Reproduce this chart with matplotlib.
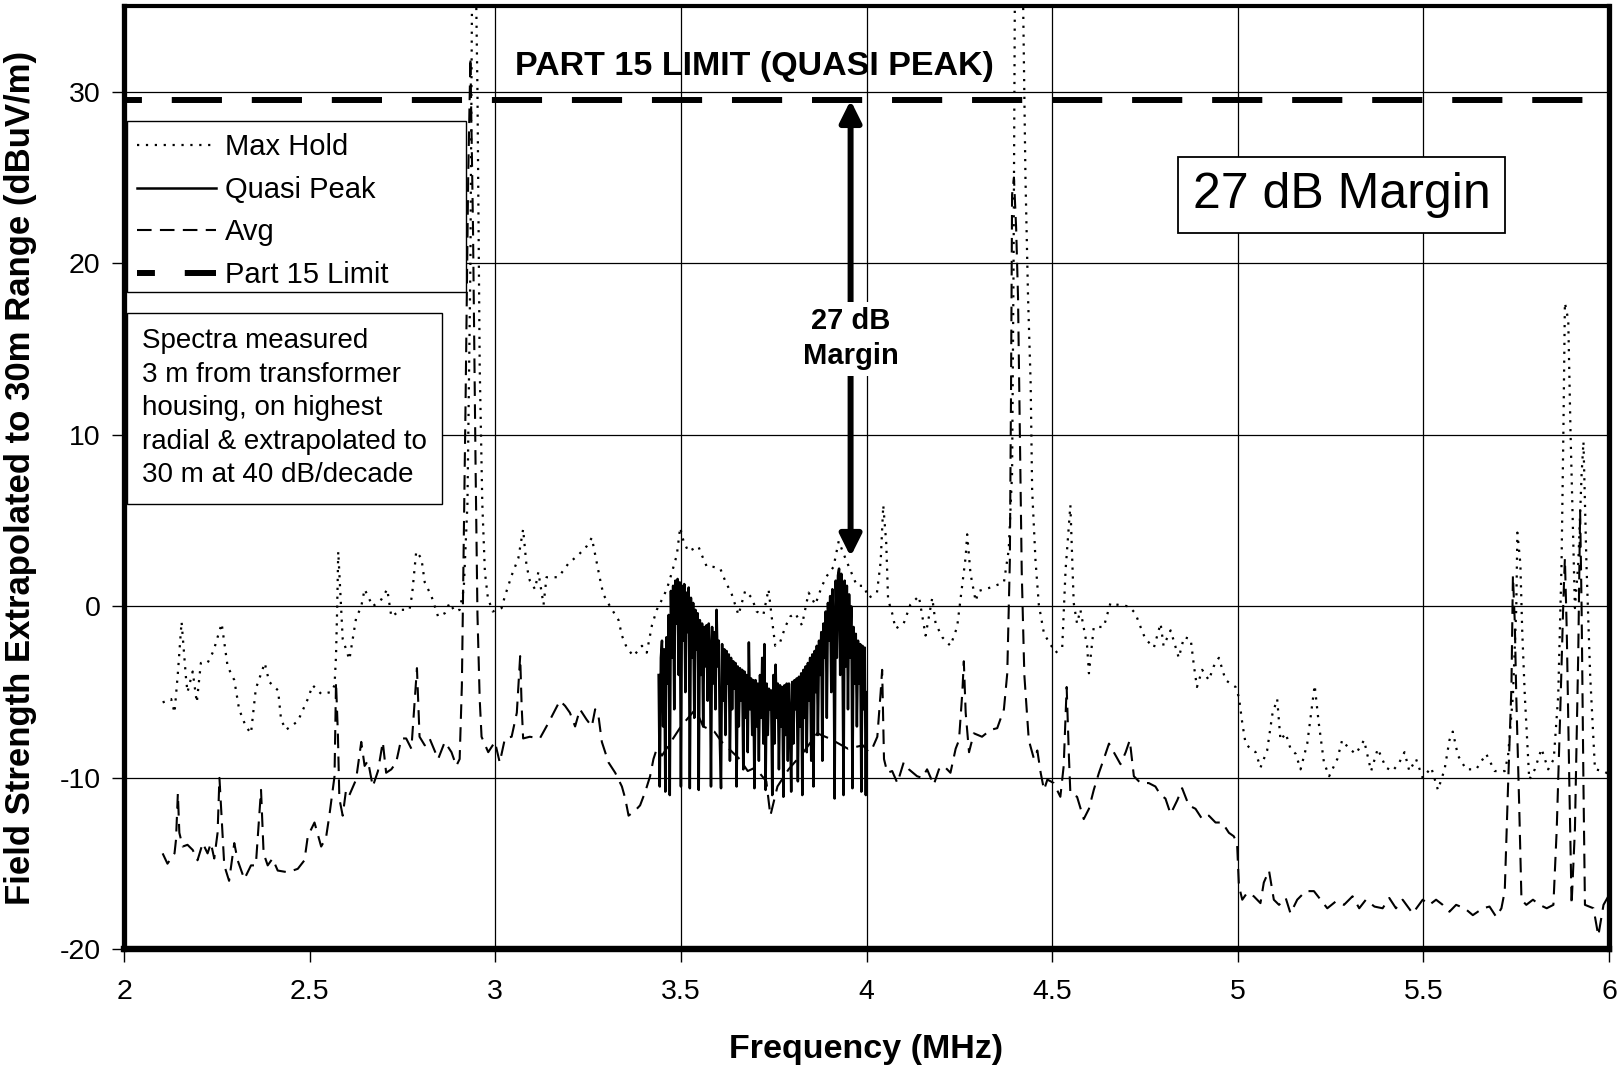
import numpy as np
import matplotlib.pyplot as plt
from matplotlib.patches import Rectangle

plt.rcParams['font.family'] = ['Liberation Sans', 'DejaVu Sans']

# Max Hold (dotted)
mh_f = [2.104, 2.127, 2.136, 2.145, 2.155, 2.167, 2.171, 2.185, 2.196, 2.207, 2.225, 2.241, 2.263, 2.279,
        2.297, 2.310, 2.328, 2.342, 2.355, 2.379, 2.391, 2.415, 2.423, 2.436, 2.468, 2.495, 2.508, 2.531,
        2.558, 2.567, 2.571, 2.574, 2.577, 2.585, 2.589, 2.607, 2.616, 2.625, 2.639, 2.648, 2.670, 2.693,
        2.709, 2.720, 2.747, 2.769, 2.776, 2.787, 2.801, 2.810, 2.828, 2.846, 2.864, 2.877, 2.891, 2.904,
        2.915, 2.925, 2.933, 2.938, 2.945, 2.952, 2.958, 2.965, 2.972, 2.980, 2.993, 3.017, 3.026, 3.044,
        3.062, 3.075, 3.084, 3.093, 3.107, 3.116, 3.130, 3.138, 3.170, 3.197, 3.224, 3.246, 3.260, 3.273,
        3.282, 3.291, 3.309, 3.332, 3.341, 3.354, 3.372, 3.395, 3.408, 3.422, 3.435, 3.449, 3.462, 3.476,
        3.489, 3.498, 3.507, 3.520, 3.547, 3.556, 3.570, 3.588, 3.606, 3.619, 3.637, 3.655, 3.673, 3.691,
        3.704, 3.722, 3.736, 3.745, 3.754, 3.767, 3.781, 3.794, 3.808, 3.826, 3.844, 3.862, 3.880, 3.894,
        3.911, 3.925, 3.943, 3.974, 3.992, 4.006, 4.028, 4.038, 4.045, 4.053, 4.058, 4.069, 4.078, 4.100,
        4.118, 4.141, 4.159, 4.177, 4.186, 4.204, 4.226, 4.244, 4.253, 4.267, 4.271, 4.280, 4.294, 4.302,
        4.334, 4.370, 4.383, 4.392, 4.396, 4.400, 4.410, 4.420, 4.428, 4.435, 4.442, 4.446, 4.455, 4.464,
        4.478, 4.495, 4.509, 4.527, 4.536, 4.549, 4.558, 4.567, 4.576, 4.594, 4.599, 4.612, 4.639, 4.657,
        4.675, 4.706, 4.724, 4.738, 4.751, 4.774, 4.792, 4.800, 4.819, 4.841, 4.855, 4.873, 4.882, 4.890,
        4.904, 4.922, 4.935, 4.949, 4.967, 4.994, 5.003, 5.012, 5.021, 5.034, 5.048, 5.061, 5.079, 5.093,
        5.106, 5.115, 5.129, 5.142, 5.156, 5.169, 5.187, 5.207, 5.218, 5.232, 5.246, 5.268, 5.281, 5.300,
        5.318, 5.340, 5.359, 5.377, 5.399, 5.417, 5.435, 5.449, 5.462, 5.480, 5.498, 5.521, 5.539, 5.557,
        5.570, 5.579, 5.593, 5.615, 5.642, 5.669, 5.692, 5.719, 5.728, 5.741, 5.750, 5.753, 5.761, 5.766,
        5.773, 5.785, 5.800, 5.818, 5.836, 5.851, 5.863, 5.872, 5.877, 5.881, 5.890, 5.896, 5.902, 5.908,
        5.917, 5.926, 5.931, 5.939, 5.949, 5.962, 5.985, 6.000]
mh_v = [-5.6, -5.4, -6.2, -3.9, -0.9, -4.2, -5.0, -3.8, -5.6, -3.3, -3.3, -2.6, -1.0, -3.5,
        -4.3, -6.0, -7.0, -7.4, -4.8, -3.3, -4.4, -4.9, -6.6, -7.2, -6.7, -5.4, -4.6, -5.1,
        -5.0, -4.6, -2.9, -0.2, 3.2, -0.2, -1.9, -3.1, -1.9, -0.7, 0.0, 1.0, 0.0, 0.4,
        1.0, -0.6, -0.2, -0.2, 0.7, 3.2, 2.8, 1.4, 0.6, -0.6, -0.4, 0.2, -0.3, -0.2,
        1.0, 6.0, 20.0, 38.0, 41.0, 30.0, 14.0, 6.0, 2.0, 0.5, -0.3, -0.1, 0.6, 1.8,
        2.8, 4.5, 2.4, 1.5, 1.0, 2.0, 0.1, 1.7, 1.7, 2.5, 3.0, 3.5, 4.0, 2.6,
        1.6, 0.7, 0.0, -0.8, -1.7, -2.4, -2.9, -2.3, -2.7, -1.1, -0.2, 0.4, 1.0, 2.0,
        3.0, 4.6, 3.8, 3.2, 3.5, 3.0, 2.3, 2.3, 2.2, 1.5, 0.7, -0.5, 0.9, 0.5,
        -0.3, -0.5, 1.0, -0.7, -2.3, -2.1, -1.2, -0.6, -0.4, -1.1, 0.8, 0.1, 1.2, 1.8,
        2.3, 3.8, 2.8, 1.2, 1.2, 0.5, 0.8, 2.6, 5.9, 3.7, 0.4, -0.4, -1.3, -1.0,
        0.1, 0.6, -1.7, 0.5, -1.0, -1.8, -2.3, -1.2, 0.4, 2.9, 4.2, 1.9, 0.3, 0.9,
        1.1, 1.4, 3.3, 7.8, 20.0, 38.0, 41.0, 38.0, 25.0, 18.0, 13.0, 6.8, 2.7, 0.1,
        -1.6, -2.2, -2.7, -2.4, 2.1, 5.9, 0.2, -1.0, -0.2, -2.3, -3.9, -1.2, -1.2, 0.2,
        0.1, 0.0, -0.4, -1.2, -1.9, -2.4, -1.0, -2.3, -1.4, -3.0, -1.8, -1.9, -3.5, -4.7,
        -3.7, -4.3, -3.5, -3.0, -4.3, -4.7, -5.3, -6.8, -8.0, -8.3, -8.5, -9.4, -8.4, -6.3,
        -5.4, -7.8, -7.4, -8.3, -8.6, -9.5, -8.0, -4.6, -6.8, -9.1, -9.9, -8.9, -7.8, -8.3,
        -8.6, -7.8, -9.6, -8.3, -9.4, -9.6, -9.1, -8.5, -9.6, -8.9, -10.0, -9.4, -10.7, -9.5,
        -7.8, -7.3, -8.7, -9.5, -9.5, -8.6, -9.6, -9.6, -8.7, -5.2, -0.1, 4.3, 2.5, -1.4,
        -5.2, -10.1, -9.5, -8.3, -9.5, -8.9, -5.2, 2.5, 10.3, 17.7, 16.7, 10.3, 5.1, -0.1,
        2.5, 7.7, 9.6, 2.5, -4.0, -9.5, -9.6, -9.8]

# Quasi Peak (solid)
qp_f = [3.440, 3.443, 3.446, 3.449, 3.452, 3.455, 3.458, 3.461, 3.464, 3.467, 3.470, 3.473, 3.476, 3.479,
        3.482, 3.485, 3.488, 3.491, 3.494, 3.497, 3.500, 3.503, 3.506, 3.509, 3.512, 3.515, 3.518, 3.521,
        3.524, 3.527, 3.530, 3.533, 3.536, 3.539, 3.542, 3.545, 3.548, 3.551, 3.554, 3.557, 3.560, 3.563,
        3.566, 3.569, 3.572, 3.575, 3.578, 3.581, 3.584, 3.587, 3.590, 3.593, 3.596, 3.599, 3.602, 3.605,
        3.608, 3.611, 3.614, 3.617, 3.620, 3.623, 3.626, 3.629, 3.632, 3.635, 3.638, 3.641, 3.644, 3.647,
        3.650, 3.653, 3.656, 3.659, 3.662, 3.665, 3.668, 3.671, 3.674, 3.677, 3.680, 3.683, 3.686, 3.689,
        3.692, 3.695, 3.698, 3.701, 3.704, 3.707, 3.710, 3.713, 3.716, 3.719, 3.722, 3.725, 3.728, 3.731,
        3.734, 3.737, 3.740, 3.743, 3.746, 3.749, 3.752, 3.755, 3.758, 3.761, 3.764, 3.767, 3.770, 3.773,
        3.776, 3.779, 3.782, 3.785, 3.788, 3.791, 3.794, 3.797, 3.800, 3.803, 3.806, 3.809, 3.812, 3.815,
        3.818, 3.821, 3.824, 3.827, 3.830, 3.833, 3.836, 3.839, 3.842, 3.845, 3.848, 3.851, 3.854, 3.857,
        3.860, 3.863, 3.866, 3.869, 3.872, 3.875, 3.878, 3.881, 3.884, 3.887, 3.890, 3.893, 3.896, 3.899,
        3.902, 3.905, 3.908, 3.911, 3.914, 3.917, 3.920, 3.923, 3.926, 3.929, 3.932, 3.935, 3.938, 3.941,
        3.944, 3.947, 3.950, 3.953, 3.956, 3.959, 3.962, 3.965, 3.968, 3.971, 3.974, 3.977, 3.980, 3.983,
        3.986, 3.989, 3.992, 3.995, 3.998, 4.000]
qp_v = [-4.0, -10.5, -3.0, -2.0, -7.0, -2.5, -10.8, -1.8, -4.5, -0.5, -11.0, 0.9, -3.0, 1.2,
        -6.0, 1.5, -1.0, 1.6, -4.0, 1.4, -10.5, 1.2, -2.0, 1.3, -5.0, 0.8, -1.5, 1.1,
        -10.6, 0.5, -3.0, 0.2, -6.5, -0.2, -2.5, -0.4, -10.7, -0.8, -4.0, -1.0, -7.0, -1.2,
        -3.5, -1.1, -5.5, -1.0, -2.5, -10.5, -1.2, -4.5, -1.5, -6.0, -0.2, -3.5, -2.0, -8.0,
        -10.6, -2.2, -5.5, -2.5, -7.5, -2.6, -4.5, -2.8, -9.0, -3.0, -6.0, -3.2, -4.8, -3.3,
        -10.5, -3.5, -7.0, -3.6, -5.5, -3.7, -9.5, -3.8, -6.5, -4.0, -8.5, -2.1, -6.0, -4.2,
        -7.5, -4.3, -10.6, -4.3, -7.0, -4.5, -9.0, -4.0, -6.5, -3.0, -8.0, -2.2, -10.7, -4.5,
        -7.5, -4.8, -6.0, -4.9, -11.0, -4.0, -8.0, -3.4, -6.5, -4.5, -9.5, -4.6, -7.0, -4.7,
        -11.1, -4.6, -7.5, -4.5, -9.0, -4.5, -6.5, -10.8, -4.4, -8.0, -4.3, -6.0, -4.2, -10.2,
        -4.1, -7.0, -3.9, -11.0, -3.7, -6.5, -3.5, -8.5, -3.3, -5.5, -3.0, -9.0, -2.8, -10.5,
        -2.6, -5.0, -2.3, -7.5, -2.0, -4.0, -1.5, -9.0, -1.0, -3.0, -0.3, -6.5, 0.2, -2.0,
        0.6, -5.0, 1.0, -1.0, -11.2, 1.5, -3.0, 1.8, 2.2, -4.0, 1.9, -2.0, -11.0, 1.5,
        -3.5, 1.2, -6.0, 0.7, -3.0, 0.0, -10.6, -1.2, -4.5, -1.6, -7.0, -2.0, -4.5, -2.2,
        -10.8, -2.3, -6.0, -2.4, -11.0, -5.0]

# Avg (dashed)
av_f = [2.104, 2.117, 2.136, 2.140, 2.145, 2.149, 2.158, 2.171, 2.185, 2.198, 2.212, 2.225, 2.234, 2.243,
        2.252, 2.257, 2.265, 2.270, 2.283, 2.297, 2.306, 2.324, 2.342, 2.355, 2.369, 2.376, 2.387, 2.400,
        2.414, 2.441, 2.468, 2.486, 2.495, 2.513, 2.531, 2.544, 2.553, 2.567, 2.569, 2.571, 2.576, 2.580,
        2.589, 2.598, 2.607, 2.625, 2.639, 2.648, 2.657, 2.670, 2.684, 2.697, 2.706, 2.720, 2.733, 2.747,
        2.760, 2.774, 2.789, 2.796, 2.810, 2.823, 2.846, 2.864, 2.882, 2.895, 2.904, 2.910, 2.914, 2.920,
        2.927, 2.933, 2.940, 2.947, 2.952, 2.958, 2.963, 2.981, 2.999, 3.012, 3.026, 3.044, 3.058, 3.067,
        3.071, 3.075, 3.093, 3.120, 3.143, 3.174, 3.188, 3.201, 3.215, 3.228, 3.246, 3.260, 3.269, 3.278,
        3.287, 3.305, 3.323, 3.341, 3.350, 3.359, 3.377, 3.390, 3.404, 3.417, 3.426, 3.435, 3.449, 3.470,
        3.500, 3.539, 3.560, 3.590, 3.610, 3.658, 3.680, 3.700, 3.730, 3.741, 3.760, 3.790, 3.830, 3.867,
        3.900, 3.950, 3.990, 4.006, 4.015, 4.029, 4.038, 4.042, 4.047, 4.056, 4.069, 4.083, 4.100, 4.114,
        4.136, 4.150, 4.163, 4.181, 4.195, 4.208, 4.226, 4.240, 4.249, 4.258, 4.262, 4.267, 4.276, 4.289,
        4.311, 4.334, 4.352, 4.370, 4.379, 4.386, 4.389, 4.392, 4.397, 4.403, 4.408, 4.413, 4.418, 4.425,
        4.437, 4.451, 4.460, 4.469, 4.478, 4.487, 4.496, 4.504, 4.522, 4.531, 4.539, 4.545, 4.549, 4.567,
        4.585, 4.599, 4.612, 4.626, 4.639, 4.653, 4.666, 4.684, 4.698, 4.709, 4.720, 4.738, 4.760, 4.778,
        4.792, 4.805, 4.819, 4.837, 4.850, 4.868, 4.886, 4.904, 4.922, 4.940, 4.958, 4.976, 4.989, 4.998,
        5.003, 5.012, 5.025, 5.043, 5.061, 5.070, 5.084, 5.097, 5.111, 5.129, 5.142, 5.160, 5.183, 5.205,
        5.223, 5.241, 5.264, 5.286, 5.309, 5.327, 5.345, 5.368, 5.390, 5.408, 5.426, 5.444, 5.471, 5.498,
        5.516, 5.534, 5.552, 5.570, 5.588, 5.611, 5.633, 5.660, 5.678, 5.696, 5.710, 5.719, 5.728, 5.737,
        5.741, 5.746, 5.750, 5.758, 5.764, 5.777, 5.795, 5.813, 5.832, 5.850, 5.859, 5.868, 5.877, 5.881,
        5.886, 5.893, 5.899, 5.908, 5.917, 5.922, 5.926, 5.931, 5.935, 5.958, 5.971, 5.985, 5.998]
av_v = [-14.4, -15.0, -14.4, -13.6, -10.9, -13.2, -14.0, -13.9, -14.2, -14.8, -13.8, -14.4, -13.8, -14.7,
        -13.2, -10.0, -13.2, -15.1, -16.0, -13.8, -14.8, -15.9, -15.1, -15.1, -10.7, -14.4, -15.1, -14.7,
        -15.4, -15.5, -15.3, -14.8, -13.4, -12.6, -14.0, -13.5, -12.2, -9.9, -7.0, -4.4, -7.4, -11.2,
        -12.2, -10.7, -11.0, -10.1, -7.9, -9.3, -9.0, -10.5, -9.6, -7.9, -9.7, -9.5, -9.1, -7.7,
        -7.7, -8.3, -3.6, -7.6, -8.1, -7.7, -8.9, -7.9, -8.5, -9.3, -8.9, -4.6, 2.0, 12.0,
        25.0, 32.0, 22.0, 8.0, -0.5, -5.4, -7.6, -8.5, -7.9, -9.1, -7.7, -7.6, -6.2, -2.9,
        -5.8, -7.7, -7.6, -7.7, -6.8, -5.5, -5.8, -6.2, -7.0, -6.0, -6.6, -7.0, -6.0, -6.4,
        -7.9, -9.1, -9.7, -10.5, -11.2, -12.2, -11.9, -11.6, -10.8, -9.9, -8.9, -8.3, -8.7, -8.0,
        -7.0, -6.0, -7.0, -7.3, -7.9, -8.9, -9.6, -9.4, -10.2, -12.2, -10.5, -9.5, -8.5, -7.4,
        -7.7, -8.3, -8.1, -8.5, -8.3, -7.6, -5.0, -3.7, -8.9, -9.7, -9.6, -10.3, -9.1, -9.5,
        -9.9, -10.0, -9.5, -10.4, -9.5, -9.3, -9.7, -8.3, -7.8, -5.0, -3.2, -6.2, -8.5, -7.4,
        -7.6, -7.2, -7.1, -6.0, -3.9, 2.7, 12.0, 24.0, 25.0, 22.0, 18.0, 10.0, 2.0, -4.0,
        -7.8, -8.9, -8.4, -9.7, -10.7, -10.1, -10.2, -10.3, -11.1, -9.3, -4.7, -8.7, -10.9, -11.1,
        -12.4, -11.8, -10.7, -9.7, -8.9, -8.0, -8.5, -9.2, -8.5, -7.8, -9.9, -10.3, -10.3, -10.5,
        -11.0, -11.2, -12.1, -11.3, -10.6, -11.6, -11.8, -12.4, -12.2, -12.6, -12.6, -13.2, -13.4, -13.8,
        -16.3, -17.1, -16.7, -16.9, -17.3, -16.1, -15.4, -17.1, -17.4, -17.0, -17.9, -17.1, -16.6, -16.6,
        -17.1, -17.6, -17.2, -17.4, -16.9, -17.6, -17.1, -17.5, -17.6, -17.0, -17.6, -17.1, -17.9, -17.1,
        -17.4, -17.1, -17.4, -17.8, -17.4, -17.6, -18.0, -17.6, -17.5, -18.1, -17.6, -16.6, -10.4, -4.7,
        1.8, -0.9, -5.2, -11.7, -17.1, -17.4, -17.1, -17.4, -17.6, -17.4, -13.0, -6.5, 0.4, 2.8,
        -1.4, -10.4, -17.4, -13.0, -2.7, 5.6, -0.1, -10.4, -17.4, -17.6, -19.2, -17.4, -16.9]

# Part 15 limit
limit_f = [2.0, 6.0]
limit_v = [29.5, 29.5]

xticks = [2, 2.5, 3, 3.5, 4, 4.5, 5, 5.5, 6]
xtick_labels = ['2', '2.5', '3', '3.5', '4', '4.5', '5', '5.5', '6']
yticks = [-20, -10, 0, 10, 20, 30]
ytick_labels = ['-20', '-10', '0', '10', '20', '30']

fig = plt.figure(figsize=(16.17, 10.68), dpi=100)
ax = fig.add_axes([0.0767, 0.111, 0.9184, 0.8834])

# grid (no line at 2.5 in the original)
for y in [-10, 0, 10, 20, 30]:
    ax.axhline(y, color='black', lw=0.9, zorder=1)
for x in [3, 3.5, 4, 4.5, 5, 5.5]:
    ax.axvline(x, color='black', lw=0.9, zorder=1)

ax.plot(mh_f, mh_v, color='black', lw=1.6, linestyle=(0, (1, 3)), label='Max Hold', zorder=3)
ax.plot(qp_f, qp_v, color='black', lw=1.8, label='Quasi Peak', zorder=4)
ax.plot(av_f, av_v, color='black', lw=1.5, linestyle=(0, (7, 4)), label='Avg', zorder=3)
ax.plot(limit_f, limit_v, color='black', lw=4.3, linestyle=(5.4, (8.4, 5.0)),
        label='Part 15 Limit', zorder=5)

ax.set_xlim(2, 6)
ax.set_ylim(-20, 35)
ax.set_xticks(xticks)
ax.set_xticklabels(xtick_labels)
ax.set_yticks(yticks)
ax.set_yticklabels(ytick_labels)
ax.tick_params(axis='x', labelsize=20.5, direction='out', length=9, width=1, pad=12)
ax.tick_params(axis='y', labelsize=20.5, direction='out', length=9, width=1, pad=8)
for s in ax.spines.values():
    s.set_linewidth(3.8)
ax.spines['top'].set_linewidth(3.0)
ax.spines['bottom'].set_linewidth(4.6)

# legend box is wider than its content in the original, so draw the frame by hand
ax.add_patch(Rectangle((127 / 1617, 1 - 292 / 1068), 339 / 1617, 171 / 1068,
                       transform=fig.transFigure, fc='white', ec='black', lw=1.0,
                       zorder=6, clip_on=False))
leg = ax.legend(loc='upper left', bbox_to_anchor=(127 / 1617, 1 - 123 / 1068),
                bbox_transform=fig.transFigure, frameon=False, fontsize=21,
                handlelength=2.7, handletextpad=0.3, labelspacing=0.5,
                borderpad=0.35, borderaxespad=0)
leg.set_zorder(7)

fig.text(142 / 1617, 1 - 328 / 1068,
         'Spectra measured\n3 m from transformer\nhousing, on highest\nradial & extrapolated to\n30 m at 40 dB/decade',
         fontsize=20, va='top', ha='left', linespacing=1.38,
         bbox=dict(boxstyle='square,pad=0.55', fc='white', ec='black', lw=1.0))

ax.text(3.699, 31.0, 'PART 15 LIMIT (QUASI PEAK)', fontsize=24.5, fontweight='bold',
        ha='center', va='baseline', zorder=6)

ax.text(5.279, 24.0, '27 dB Margin', fontsize=36, ha='center', va='center', zorder=6,
        bbox=dict(boxstyle='square,pad=0.3', fc='white', ec='black', lw=1.3))

ax.annotate('', xy=(3.957, 2.9), xytext=(3.957, 29.5),
            arrowprops=dict(arrowstyle='<|-|>,head_length=1.3,head_width=0.65', lw=4.3,
                            color='black', shrinkA=0, shrinkB=0, mutation_scale=10),
            zorder=6)
ax.text(3.957, 15.6, '27 dB\nMargin', fontsize=21, fontweight='bold', ha='center', va='center',
        linespacing=1.3, zorder=7,
        bbox=dict(boxstyle='square,pad=0.2', fc='white', ec='none'))

fig.text(866 / 1617, 1 - 1058 / 1068, 'Frequency (MHz)', fontsize=24.5, fontweight='bold',
         ha='center', va='baseline')
fig.text(21 / 1617, 1 - 478 / 1068, 'Field Strength Extrapolated to 30m Range (dBuV/m)',
         fontsize=25, fontweight='bold', rotation=90, ha='center', va='center')

fig.savefig('out.png', dpi=100)
